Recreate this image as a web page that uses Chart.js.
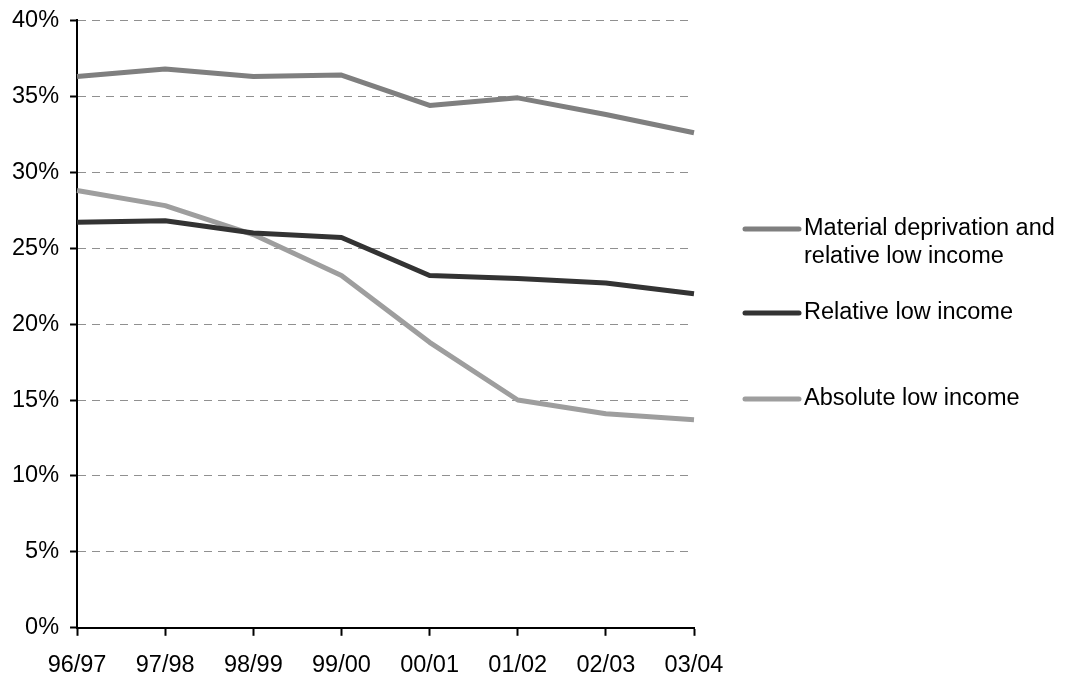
<!DOCTYPE html>
<html>
<head>
<meta charset="utf-8">
<script src="https://cdn.jsdelivr.net/npm/chart.js@4/dist/chart.umd.min.js"></script>
<style>
  html, body { margin: 0; padding: 0; background: #fff; }
  #wrap { width: 1066px; height: 677px; position: relative; }
</style>
</head>
<body>
<div id="wrap"><canvas id="c" width="1066" height="677"></canvas></div>
<script>
// Financial years
const years = ['96/97', '97/98', '98/99', '99/00', '00/01', '01/02', '02/03', '03/04'];

// Share of children in each low-income measure (%)
const materialDeprivation = [36.3, 36.8, 36.3, 36.4, 34.4, 34.9, 33.8, 32.6];
const relativeLowIncome   = [26.7, 26.8, 26.0, 25.7, 23.2, 23.0, 22.7, 22.0];
const absoluteLowIncome   = [28.8, 27.8, 25.9, 23.2, 18.8, 15.0, 14.1, 13.7];

const seriesNames = [
  ['Material deprivation and', 'relative low income'],
  ['Relative low income'],
  ['Absolute low income']
];
const seriesColors = ['#7f7f7f', '#333333', '#9e9e9e'];

const FONT = '"Liberation Sans", Arial, Helvetica, sans-serif';

// Legend drawn to the right of the plot, one short line sample per series
const sideLegend = {
  id: 'sideLegend',
  afterDraw(chart) {
    const ctx = chart.ctx;
    const rows = [229, 313, 399];
    ctx.save();
    ctx.font = '23.5px ' + FONT;
    ctx.textBaseline = 'middle';
    ctx.fillStyle = '#000';
    seriesNames.forEach((lines, i) => {
      const y = rows[i];
      ctx.strokeStyle = seriesColors[i];
      ctx.lineWidth = 5;
      ctx.lineCap = 'round';
      ctx.beginPath();
      ctx.moveTo(745, y);
      ctx.lineTo(799, y);
      ctx.stroke();
      lines.forEach((t, j) => ctx.fillText(t, 804, y + j * 28));
    });
    ctx.restore();
  }
};

new Chart(document.getElementById('c'), {
  type: 'line',
  data: {
    labels: years,
    datasets: [
      { label: seriesNames[0].join(' '), data: materialDeprivation, borderColor: seriesColors[0] },
      { label: seriesNames[1].join(' '), data: relativeLowIncome,   borderColor: seriesColors[1] },
      { label: seriesNames[2].join(' '), data: absoluteLowIncome,   borderColor: seriesColors[2] }
    ]
  },
  options: {
    responsive: false,
    animation: false,
    layout: { padding: { left: 1, right: 372, top: 0, bottom: -19 } },
    elements: {
      line: { borderWidth: 5, tension: 0, borderJoinStyle: 'round', borderCapStyle: 'butt' },
      point: { radius: 0 }
    },
    plugins: {
      legend: { display: false },
      tooltip: { enabled: false }
    },
    scales: {
      x: {
        offset: false,
        grid: {
          drawOnChartArea: false,
          drawTicks: true,
          tickLength: 8,
          tickWidth: 2,
          tickColor: '#000'
        },
        border: { display: true, color: '#000', width: 2 },
        ticks: {
          color: '#000',
          font: { family: FONT, size: 23.5 },
          padding: 16,
          maxRotation: 0,
          autoSkip: false
        }
      },
      y: {
        min: 0,
        max: 40,
        grid: {
          color: '#909090',
          lineWidth: 1,
          drawTicks: true,
          tickLength: 7,
          tickWidth: 2,
          tickColor: '#000',
          tickBorderDash: []
        },
        border: { display: true, color: '#000', width: 2, dash: [8, 6] },
        ticks: {
          stepSize: 5,
          color: '#000',
          font: { family: FONT, size: 23.5, lineHeight: 0.8 },
          padding: 11,
          callback: v => v + '%'
        }
      }
    }
  },
  plugins: [sideLegend]
});
</script>
</body>
</html>
